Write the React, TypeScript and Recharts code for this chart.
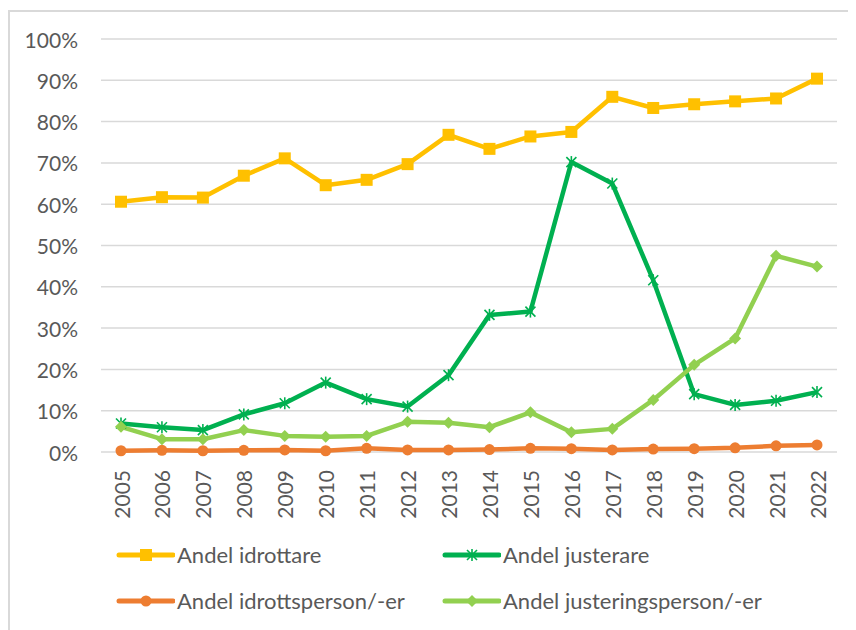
import React from 'react';
import { LineChart, Line, XAxis, YAxis, CartesianGrid, Legend } from 'recharts';

const years = ['2005', '2006', '2007', '2008', '2009', '2010', '2011', '2012', '2013', '2014', '2015', '2016', '2017', '2018', '2019', '2020', '2021', '2022'];
const idrottare = [60.6, 61.7, 61.6, 66.9, 71.1, 64.6, 65.9, 69.7, 76.8, 73.4, 76.4, 77.5, 86.0, 83.3, 84.2, 84.9, 85.6, 90.4];
const justerare = [6.9, 6.0, 5.3, 9.1, 11.8, 16.8, 12.8, 11.0, 18.6, 33.2, 34.0, 70.2, 65.0, 41.6, 14.0, 11.4, 12.4, 14.5];
const idrottsperson = [0.3, 0.4, 0.3, 0.4, 0.5, 0.3, 0.9, 0.5, 0.5, 0.6, 0.9, 0.8, 0.5, 0.7, 0.8, 1.0, 1.5, 1.7];
const justeringsperson = [6.1, 3.1, 3.1, 5.3, 3.9, 3.7, 3.9, 7.3, 7.1, 6.0, 9.6, 4.8, 5.6, 12.6, 21.1, 27.5, 47.5, 44.9];
const yTicks = [0, 10, 20, 30, 40, 50, 60, 70, 80, 90, 100];

const seriesNames = ['Andel idrottare', 'Andel justerare', 'Andel idrottsperson/-er', 'Andel justeringsperson/-er'];
const seriesColors = ['#FFC000', '#00B050', '#ED7D31', '#92D050'];

const data = years.map((y, i) => ({
  year: y,
  idrottare: idrottare[i],
  justerare: justerare[i],
  idrottsperson: idrottsperson[i],
  justeringsperson: justeringsperson[i],
}));

const FONT = 'Lato, "Liberation Sans", sans-serif';
const TEXT = '#595959';

function marker(kind: string, cx: number, cy: number, color: string, key?: any) {
  if (kind === 'square') {
    return <rect key={key} x={cx - 6} y={cy - 6} width={12} height={12} fill={color} />;
  }
  if (kind === 'circle') {
    return <circle key={key} cx={cx} cy={cy} r={5.5} fill={color} />;
  }
  if (kind === 'diamond') {
    return <path key={key} d={`M${cx},${cy - 6}L${cx + 6},${cy}L${cx},${cy + 6}L${cx - 6},${cy}Z`} fill={color} />;
  }
  return (
    <g key={key} stroke={color} strokeWidth={1.6}>
      <line x1={cx - 5} y1={cy - 5} x2={cx + 5} y2={cy + 5} />
      <line x1={cx - 5} y1={cy + 5} x2={cx + 5} y2={cy - 5} />
      <line x1={cx} y1={cy - 6} x2={cx} y2={cy + 6} />
    </g>
  );
}

const kinds = ['square', 'star', 'circle', 'diamond'];

const makeDot = (kind: string, color: string) => (props: any) => {
  const { cx, cy, index } = props;
  if (cx == null || cy == null) return <g key={index} />;
  return marker(kind, cx, cy, color, index);
};

const XTick = (props: any) => {
  const { x, y, payload } = props;
  return (
    <text
      transform={`translate(${x},${y + 18}) rotate(-90)`}
      textAnchor="end"
      dominantBaseline="central"
      fill={TEXT}
      fontSize={21}
      fontFamily={FONT}
    >
      {payload.value}
    </text>
  );
};

const YTick = (props: any) => {
  const { x, y, payload } = props;
  return (
    <text x={x} y={y} textAnchor="end" dominantBaseline="central" fill={TEXT} fontSize={21} fontFamily={FONT}>
      {payload.value}%
    </text>
  );
};

const legendPos = [
  { lx: 109, tx: 169, y: 25 },
  { lx: 435, tx: 495, y: 25 },
  { lx: 109, tx: 169, y: 71 },
  { lx: 435, tx: 495, y: 71 },
];

const LegendContent = () => (
  <div style={{ position: 'relative', width: 848, height: 100 }}>
    {seriesNames.map((name, i) => {
      const p = legendPos[i];
      return (
        <div key={name}>
          <svg
            width={60}
            height={16}
            style={{ position: 'absolute', left: p.lx - 2, top: p.y - 8 }}
          >
            <line x1={4} y1={8} x2={58} y2={8} stroke={seriesColors[i]} strokeWidth={5} strokeLinecap="round" />
            {marker(kinds[i], 31, 8, seriesColors[i])}
          </svg>
          <span
            style={{
              position: 'absolute',
              left: p.tx,
              top: p.y - 14,
              lineHeight: '28px',
              fontSize: 22,
              fontFamily: FONT,
              color: TEXT,
              whiteSpace: 'nowrap',
            }}
          >
            {name}
          </span>
        </div>
      );
    })}
  </div>
);

export default function App() {
  const keys = ['idrottare', 'justerare', 'idrottsperson', 'justeringsperson'];
  return (
    <div style={{ position: 'relative', width: 848, height: 622, overflow: 'hidden', background: '#fff' }}>
      <div
        style={{
          position: 'absolute',
          left: 0,
          top: 2,
          width: 900,
          height: 700,
          borderTop: '2px solid #D9D9D9',
          borderLeft: '2px solid #D9D9D9',
          boxSizing: 'border-box',
        }}
      />
      <div style={{ position: 'absolute', left: 0, top: 0 }}>
        <LineChart width={848} height={622} data={data} margin={{ top: 31, right: 19, left: 0, bottom: 0 }}>
          <CartesianGrid vertical={false} stroke="#D9D9D9" strokeWidth={1.5} />
          <XAxis
            dataKey="year"
            height={78}
            axisLine={false}
            tickLine={false}
            tickSize={0}
            tickMargin={0}
            interval={0}
            padding={{ left: 20, right: 20 }}
            tick={<XTick />}
          />
          <YAxis
            width={93}
            domain={[0, 100]}
            ticks={yTicks}
            axisLine={false}
            tickLine={false}
            tickSize={0}
            tickMargin={23}
            interval={0}
            tick={<YTick />}
          />
          <Legend
            verticalAlign="bottom"
            content={<LegendContent />}
            wrapperStyle={{ left: 0, width: 848, height: 100, bottom: 0 }}
          />
          {keys.map((k, i) => (
            <Line
              key={k}
              dataKey={k}
              name={seriesNames[i]}
              stroke={seriesColors[i]}
              strokeWidth={4.5}
              strokeLinejoin="round"
              dot={makeDot(kinds[i], seriesColors[i])}
              activeDot={false}
              isAnimationActive={false}
              type="linear"
            />
          ))}
        </LineChart>
      </div>
    </div>
  );
}
